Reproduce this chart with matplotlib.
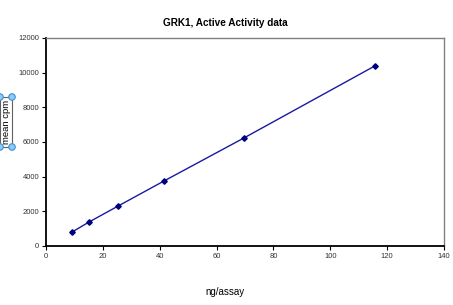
import matplotlib
matplotlib.use("Agg")
import matplotlib.pyplot as plt
from matplotlib.patches import Rectangle, Ellipse

ng_assay = [9.1, 15.1, 25.3, 41.5, 69.6, 115.7]
mean_cpm = [800, 1380, 2300, 3750, 6230, 10390]
x_ticks = [0, 20, 40, 60, 80, 100, 120, 140]
y_ticks = [0, 2000, 4000, 6000, 8000, 10000, 12000]

plt.rcParams['font.family'] = ['Liberation Sans', 'DejaVu Sans']
W, H = 453, 305
fig = plt.figure(figsize=(W/100, H/100), dpi=100)
ax = fig.add_axes([46/W, 1-246/H, (444-46)/W, (246-38)/H])
ax.plot(ng_assay, mean_cpm, color='#1a1aa0', lw=1.0, marker='D', ms=2.8,
        mfc='#000080', mec='#000080')
ax.set_xlim(0, 140)
ax.set_ylim(0, 12000)
ax.set_xticks(x_ticks)
ax.set_yticks(y_ticks)
ax.tick_params(labelsize=5.5, colors='black', length=3, width=0.8, pad=2, labelcolor='#333333')
for s in ['left', 'bottom']:
    ax.spines[s].set_color('black'); ax.spines[s].set_linewidth(1.3)
for s in ['top', 'right']:
    ax.spines[s].set_color('#808080'); ax.spines[s].set_linewidth(1.0)

fig.text(225/W, 1-23/H, 'GRK1, Active Activity data', ha='center', va='center',
         fontsize=7.2, fontweight='bold')
fig.text(225/W, 1-292/H, 'ng/assay', ha='center', va='center', fontsize=7)

# y label in selection box
fig.text(6.5/W, 1-122/H, 'mean cpm', ha='center', va='center', rotation=90, fontsize=6.8)
fig.patches.append(Rectangle((0, 1-147/H), 12/W, 50/H, transform=fig.transFigure,
                             fill=False, ec='#606060', lw=0.8))
for (px, py) in [(0, 97), (12, 97), (12, 147), (0, 147)]:
    fig.patches.append(Ellipse((px/W, 1-py/H), 6.5/W, 6.5/H, transform=fig.transFigure,
                               fc='#8fcaf5', ec='#3a8fd8', lw=0.8))
fig.savefig('out.png', dpi=100)
